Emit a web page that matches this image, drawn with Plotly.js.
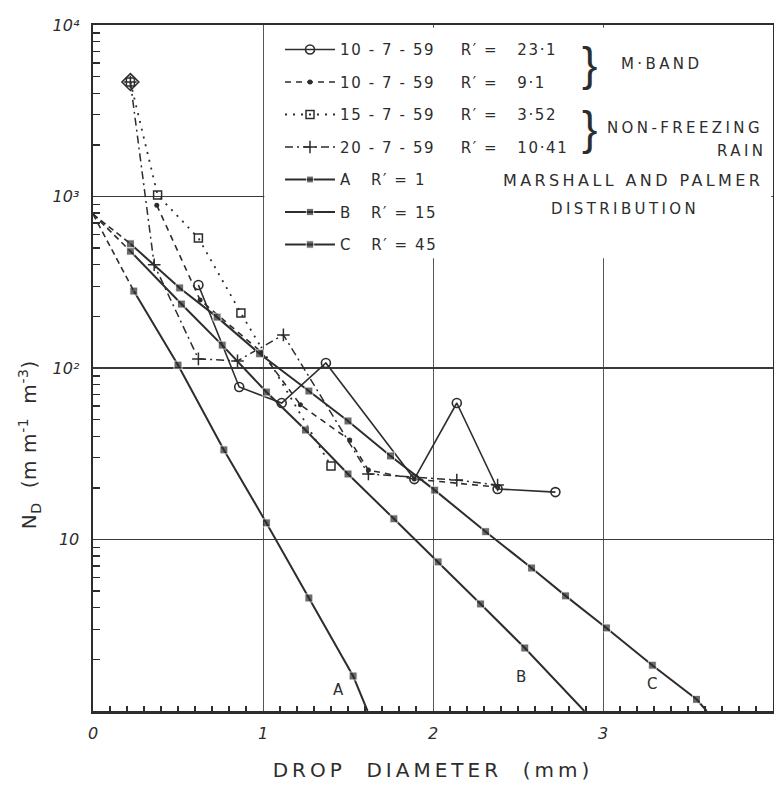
<!DOCTYPE html>
<html><head><meta charset="utf-8">
<script src="https://cdn.plot.ly/plotly-3.0.1.min.js"></script>
<style>
html,body{margin:0;padding:0;background:#fff;}
#chart{width:774px;height:787px;}
.legendtext{letter-spacing:1.6px;}
.annotation-text{letter-spacing:3.4px;}
.annotation[data-index="0"] .annotation-text{letter-spacing:0.6px;}
.xtitle{letter-spacing:4px;}
</style></head><body><div id="chart"></div>
<script>
// ---- data (drop diameter D in mm, N_D in mm^-1 m^-3) ----
// Marshall-Palmer curves (solid, filled squares); last point = where line meets the axis
const dA = [0.24, 0.50, 0.77, 1.02, 1.27, 1.53, 1.615];
const nA = [281, 104, 33.3, 12.5, 4.56, 1.60, 1.0];
const dB = [0.22, 0.52, 0.76, 1.02, 1.25, 1.50, 1.77, 2.03, 2.28, 2.54, 2.89];
const nB = [480, 236, 136, 72.4, 43.5, 24.1, 13.2, 7.40, 4.21, 2.33, 1.0];
const dC = [0.22, 0.51, 0.73, 0.98, 1.27, 1.50, 1.75, 2.01, 2.31, 2.58, 2.78, 3.02, 3.29, 3.55, 3.61];
const nC = [530, 293, 198, 121, 73.4, 49.1, 30.7, 19.4, 11.1, 6.82, 4.69, 3.05, 1.85, 1.17, 1.0];
// common intercept at D = 0 (dashed extrapolation)
const d0 = 0;
const n0 = 790;
// measured spectra
const d1 = [0.62, 0.86, 1.11, 1.37, 1.89, 2.14, 2.38, 2.72];          // 10-7-59 R'=23.1
const n1 = [305, 77.5, 62.5, 107, 22.5, 62.5, 19.7, 18.9];
const d2 = [0.375, 0.63, 0.99, 1.22, 1.51, 1.62, 1.89, 2.38];         // 10-7-59 R'=9.1
const n2 = [890, 249, 124, 61, 38, 25.4, 22.5, 20.2];
const d3 = [0.22, 0.38, 0.62, 0.87, 1.40];                            // 15-7-59 R'=3.52
const n3 = [4650, 1020, 573, 209, 26.8];
const d4 = [0.22, 0.36, 0.62, 0.85, 1.12, 1.62, 2.14, 2.38];          // 20-7-59 R'=10.41
const n4 = [4650, 400, 113, 110, 156, 24.1, 22.2, 20.8];

const seriesNames = [
  '10 - 7 - 59\u00a0\u00a0\u00a0\u00a0R\u2032 =\u00a0\u00a0\u00a023\u00b71',
  '10 - 7 - 59\u00a0\u00a0\u00a0\u00a0R\u2032 =\u00a0\u00a0\u00a09\u00b71',
  '15 - 7 - 59\u00a0\u00a0\u00a0\u00a0R\u2032 =\u00a0\u00a0\u00a03\u00b752',
  '20 - 7 - 59\u00a0\u00a0\u00a0\u00a0R\u2032 =\u00a0\u00a0\u00a010\u00b741',
  'A\u00a0\u00a0\u00a0R\u2032 = 1',
  'B\u00a0\u00a0\u00a0R\u2032 = 15',
  'C\u00a0\u00a0\u00a0R\u2032 = 45'
];
const curveLabels = ['A', 'B', 'C'];
const curveLabelD = [1.45, 2.53, 3.30];
const curveLabelN = [1.32, 1.58, 1.44];

const xTickVals = [0, 1, 2, 3, 4];
const xTickText = ['0', '1', '2', '3', '4'];
const yTickVals = [10, 100, 1000, 10000];
const yTickText = ['10', '10\u00b2', '10\u00b3', '10\u2074'];

// ---- styling ----
const ink = '#2d2d2d';
const endless = (arr, s) => arr.map((_, i) => (i === arr.length - 1 ? 0 : s));

const mpTrace = (d, n, name, g) => ({
  x: d, y: n, name: name, legendgroup: g, type: 'scatter', mode: 'lines+markers',
  line: {color: ink, width: 2}, marker: {symbol: 'square', size: endless(d, 8), color: ink}
});
const extTrace = (d, n, g) => ({
  x: [d0, d[0]], y: [n0, n[0]], legendgroup: g, showlegend: false, type: 'scatter', mode: 'lines',
  line: {color: ink, width: 1.6, dash: '6px,4px'}, hoverinfo: 'skip'
});

const traces = [
  {x: d1, y: n1, name: seriesNames[0], legendgroup: 'g1', type: 'scatter', mode: 'lines+markers',
   line: {color: ink, width: 1.6}, marker: {symbol: 'circle-open', size: 9, color: ink, line: {width: 1.6, color: ink}}},
  {x: d2, y: n2, name: seriesNames[1], legendgroup: 'g2', type: 'scatter', mode: 'lines+markers',
   line: {color: ink, width: 1.6, dash: '6px,5px'}, marker: {symbol: 'circle', size: 5, color: ink}},
  {x: d3, y: n3, name: seriesNames[2], legendgroup: 'g3', type: 'scatter', mode: 'lines+markers',
   line: {color: ink, width: 1.8, dash: '2px,6px'}, marker: {symbol: 'square-open', size: 8, color: ink, line: {width: 1.5, color: ink}}},
  {x: d4, y: n4, name: seriesNames[3], legendgroup: 'g4', type: 'scatter', mode: 'lines+markers',
   line: {color: ink, width: 1.5, dash: '8px,4px,2px,4px'}, marker: {symbol: 'cross-thin-open', size: 9, color: ink, line: {width: 1.5, color: ink}}},
  mpTrace(dA, nA, seriesNames[4], 'g5'),
  mpTrace(dB, nB, seriesNames[5], 'g6'),
  mpTrace(dC, nC, seriesNames[6], 'g7'),
  extTrace(dA, nA, 'g5'),
  extTrace(dB, nB, 'g6'),
  extTrace(dC, nC, 'g7'),
  // common starting point of the 15-7-59 and 20-7-59 spectra
  {x: [d3[0]], y: [n3[0]], showlegend: false, type: 'scatter', mode: 'markers', legendgroup: 'g3',
   marker: {symbol: 'diamond-open', size: 13, color: ink, line: {width: 1.6, color: ink}}}
];

// minor tick positions
const yMinor = [];
for (let e = 0; e < 4; e++) for (let k = 2; k <= 9; k++) yMinor.push(k * Math.pow(10, e));
const xMinor = [];
for (let i = 1; i < 40; i++) if (i % 10 !== 0) xMinor.push(i / 10);

const pa = (o) => Object.assign({xref: 'paper', yref: 'paper', xanchor: 'center', yanchor: 'middle', showarrow: false}, o);
const annotations = [
  pa({x: -0.093, y: 0.388, textangle: -90,
      text: 'N<sub>D</sub>\u00a0 (m m<sup>-1</sup>\u00a0 m<sup>-3</sup>)', font: {size: 20, color: ink}}),
  pa({x: 0.733, y: 0.943, text: '}', font: {size: 46, family: 'Liberation Sans', color: ink}}),
  pa({x: 0.733, y: 0.850, text: '}', font: {size: 46, family: 'Liberation Sans', color: ink}}),
  pa({x: 0.836, y: 0.943, text: 'M\u00b7BAND', font: {size: 15, color: ink}}),
  pa({x: 0.870, y: 0.850, text: 'NON-FREEZING', font: {size: 15, color: ink}}),
  pa({x: 0.992, xanchor: 'right', y: 0.816, text: 'RAIN', font: {size: 15, color: ink}}),
  pa({x: 0.794, y: 0.774, text: 'MARSHALL AND PALMER', font: {size: 16, color: ink}}),
  pa({x: 0.782, y: 0.732, text: 'DISTRIBUTION', font: {size: 15, color: ink}})
];
curveLabels.forEach((t, i) => annotations.push({
  xref: 'x', yref: 'y', x: curveLabelD[i], y: Math.log10(curveLabelN[i]), showarrow: false,
  xanchor: 'center', yanchor: 'middle', text: t, font: {size: 15, color: ink}
}));

const layout = {
  width: 774, height: 787,
  margin: {l: 93, r: 1, t: 25, b: 76},
  paper_bgcolor: '#ffffff', plot_bgcolor: '#ffffff',
  font: {family: 'DejaVu Sans', color: ink, size: 15},
  showlegend: true,
  legend: {x: 0.275, xanchor: 'left', y: 0.988, yanchor: 'top', bgcolor: 'rgba(0,0,0,0)', borderwidth: 0,
           font: {size: 15, color: ink}, itemwidth: 50, traceorder: 'grouped', tracegroupgap: 10},
  xaxis: {range: [0, 4], tickmode: 'array', tickvals: xTickVals, ticktext: xTickText,
          showgrid: true, gridcolor: '#555', gridwidth: 1, zeroline: false,
          showline: true, linecolor: ink, linewidth: 2.5, mirror: true, ticks: '',
          ticklabelstandoff: 6, tickfont: {size: 16, color: ink, style: 'italic'},
          minor: {tickmode: 'array', tickvals: xMinor, ticks: 'inside', ticklen: 5, tickwidth: 1.3, tickcolor: ink, showgrid: false},
          title: {text: 'DROP\u00a0 DIAMETER\u00a0 (mm)', font: {size: 20, color: ink}, standoff: 22}},
  yaxis: {type: 'log', range: [0, 4], tickmode: 'array', tickvals: yTickVals, ticktext: yTickText,
          showgrid: true, gridcolor: '#3a3a3a', gridwidth: 1.2, zeroline: false,
          showline: true, linecolor: ink, linewidth: 2.5, mirror: true, ticks: '',
          ticklabelstandoff: 8, tickfont: {size: 16, color: ink, style: 'italic'},
          minor: {tickmode: 'array', tickvals: yMinor, ticks: 'inside', ticklen: 7, tickwidth: 1.3, tickcolor: ink, showgrid: false}},
  shapes: [
    {type: 'rect', xref: 'x', yref: 'paper', x0: 1.008, x1: 3.99, y0: 0.66, y1: 0.996,
     fillcolor: '#ffffff', line: {width: 0}, layer: 'above'}
  ],
  annotations: annotations
};

Plotly.newPlot('chart', traces, layout, {displayModeBar: false, staticPlot: true});
</script></body></html>
